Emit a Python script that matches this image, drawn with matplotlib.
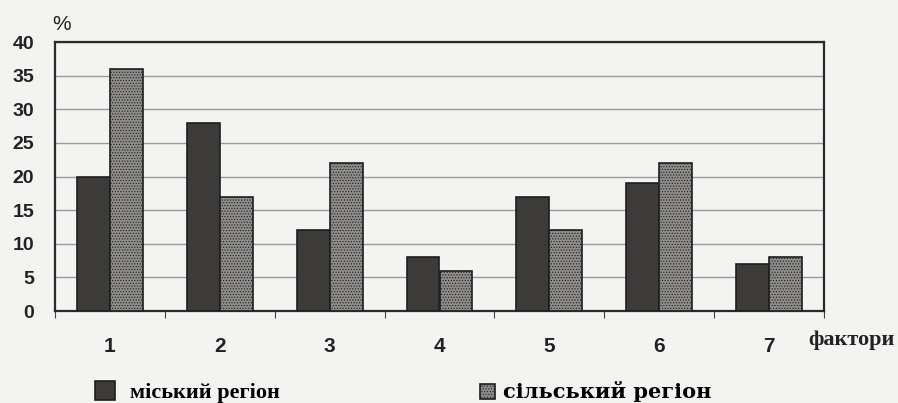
import numpy as np
import matplotlib
matplotlib.use("Agg")
import matplotlib.pyplot as plt

categories = ["1", "2", "3", "4", "5", "6", "7"]
city = [20, 28, 12, 8, 17, 19, 7]
rural = [36, 17, 22, 6, 12, 22, 8]
yticks = [0, 5, 10, 15, 20, 25, 30, 35, 40]

bg = "#f3f3f1"
plt.rcParams['hatch.color'] = '#6a6a6a'
plt.rcParams['hatch.linewidth'] = 0.5
fig = plt.figure(figsize=(8.98, 4.03), dpi=100, facecolor=bg)
W, H = 898, 403
ax = fig.add_axes([55 / W, (H - 311) / H, (824 - 55) / W, (311 - 42) / H])
ax.set_facecolor(bg)

x = np.arange(len(categories))
bw = 0.3
ax.bar(x - bw / 2, city, bw, color="#3d3b3a", edgecolor="#1e1e1e", linewidth=1.2, zorder=3,
       label="міський регіон")
ax.bar(x + bw / 2, rural, bw, color="#8e8d8b", edgecolor="#1e1e1e", linewidth=1.2, zorder=3,
       hatch="......", label="сільський регіон")

ax.set_xlim(-0.5, len(categories) - 0.5)
ax.set_ylim(0, 40)
ax.set_yticks(yticks)
ax.set_yticklabels([str(v) for v in yticks], fontsize=14, fontweight="bold",
                   family="Liberation Sans", color="#222222")
ax.yaxis.grid(True, color="#9a9a9a", linewidth=1.0, zorder=0)
ax.tick_params(axis="y", length=0, pad=15)

ax.set_xticks(np.arange(len(categories) + 1) - 0.5)
ax.set_xticklabels([])
ax.tick_params(axis="x", which="major", length=5, direction="out", color="#444444")
ax.set_xticks(x, minor=True)
ax.set_xticklabels(categories, minor=True, fontsize=15, fontweight="bold",
                   family="Liberation Sans", color="#222222")
ax.tick_params(axis="x", which="minor", length=0, pad=19)

for s in ax.spines.values():
    s.set_color("#2a2a2a")
    s.set_linewidth(1.6)

fig.text(62 / W, 1 - 24 / H, "%", fontsize=15, family="Liberation Sans",
         color="#222222", ha="center", va="center")
fig.text(808 / W, 1 - 340 / H, "фактори", fontsize=16, fontweight="bold",
         family="Liberation Serif", color="#222222", ha="left", va="center")

h, l = ax.get_legend_handles_labels()
fig.legend([h[0]], [l[0]], loc="center left", bbox_to_anchor=(84 / W, 1 - 392 / H),
           frameon=False, prop={"family": "Liberation Serif", "weight": "bold", "size": 16},
           handlelength=0.9, handleheight=0.9, handletextpad=0.65, borderpad=0)
fig.legend([h[1]], [l[1]], loc="center left", bbox_to_anchor=(470 / W, 1 - 392 / H),
           frameon=False, prop={"family": "DejaVu Serif", "weight": "bold", "size": 15},
           handlelength=0.7, handleheight=0.7, handletextpad=0.4, borderpad=0)

fig.savefig("out.png", dpi=100, facecolor=bg)
